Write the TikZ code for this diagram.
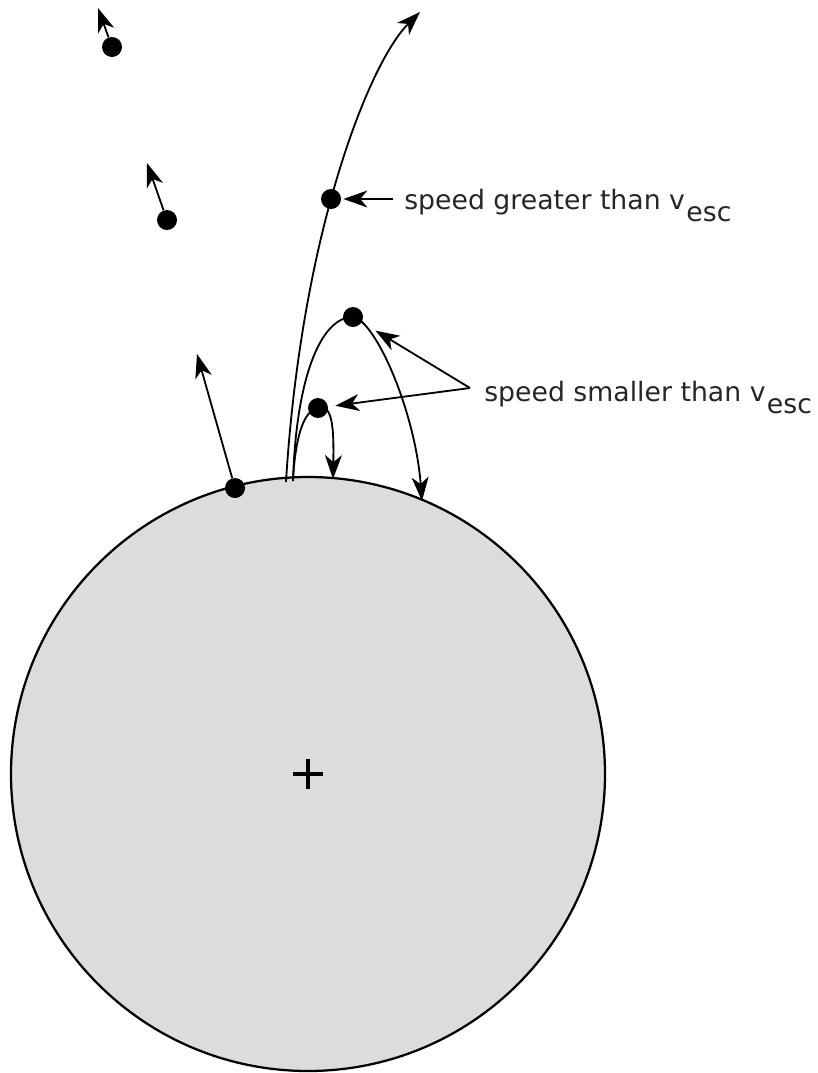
\documentclass[tikz,border=0pt]{standalone}
\usepackage{fontspec}
\setmainfont{DejaVu Sans}
\usetikzlibrary{arrows.meta, positioning, calc}
\definecolor{planetFill}{HTML}{DCDCDC}
\newcommand{\vesc}{v\kern1pt\raisebox{-9pt}{esc}}

\begin{document}
\begin{tikzpicture}[
    x=0.025cm, y=-0.025cm,
    ball/.style={circle, fill=black, minimum size=0.5cm, inner sep=0pt},
    orbit/.style={line width=1.3pt},
    traj/.style={line width=1.3pt, -{Stealth[length=17pt, width=12pt, inset=5pt]}},
    pointer/.style={line width=1.3pt, -{Stealth[length=17pt, width=12pt, inset=5pt]}},
    tag/.style={font=\fontsize{19pt}{22pt}\selectfont, text=black!85, inner sep=0pt, anchor=base west},
  ]
    \useasboundingbox (0,0) rectangle (817,1073);

    % planet
    \coordinate (centre) at (308,774);
    \draw[line width=1.6pt, fill=planetFill] (centre) circle[radius=297];
    \draw[line width=2.2pt] ([xshift=-0.38cm]centre) -- ([xshift=0.38cm]centre);
    \draw[line width=2.2pt] ([yshift=-0.38cm]centre) -- ([yshift=0.38cm]centre);

    % bodies
    \node[ball] (orbA) at (112,47) {};
    \node[ball] (orbB) at (167,220) {};
    \node[ball] (surf) at (235,488) {};
    \node[ball] (fast) at (331,199) {};
    \node[ball] (peak) at (353,317) {};
    \node[ball] (slow) at (318,408) {};

    % free velocity arrows
    \coordinate (orbAtip) at (98,8);
    \coordinate (orbBtip) at (147,163);
    \coordinate (surftip) at (197,354);
    \draw[pointer] (orbA) -- (orbAtip);
    \draw[pointer] (orbB) -- (orbBtip);
    \draw[pointer] (surf) -- (surftip);

    % trajectories
    \coordinate (launchEsc) at (286,482);
    \coordinate (launchArc) at (293,481);
    \coordinate (escTip) at (420,12);
    \coordinate (arcTip) at (422,501);
    \coordinate (hopTip) at (333,479);
    \draw[orbit] (launchEsc) .. controls (292,382) and (308,282) .. (fast.center);
    \draw[traj] (fast.center) .. controls (354,115) and (384,48) .. (escTip);
    \draw[orbit] (launchArc) .. controls (296,380) and (320,317) .. (peak.center);
    \draw[traj] (peak.center) .. controls (375,320) and (415,410) .. (arcTip);
    \draw[orbit] (launchArc) .. controls (295,440) and (303,410) .. (slow.center);
    \draw[traj] (slow.center) .. controls (332,404) and (334,425) .. (hopTip);

    % labels
    \coordinate (fastTail) at (393,199);
    \node[tag] (lblFast) at ([shift={(11,10)}]fastTail) {speed greater than \vesc};
    \draw[pointer, shorten >=1.5pt] (fastTail) -- (fast);

    \coordinate (fork) at (470,388);
    \node[tag] (lblSlow) at ([shift={(14,13)}]fork) {speed smaller than \vesc};
    \draw[pointer, shorten >=0.4cm] (fork) -- (peak);
    \draw[pointer, shorten >=0.18cm] (fork) -- (slow);
  \end{tikzpicture}
\end{document}
